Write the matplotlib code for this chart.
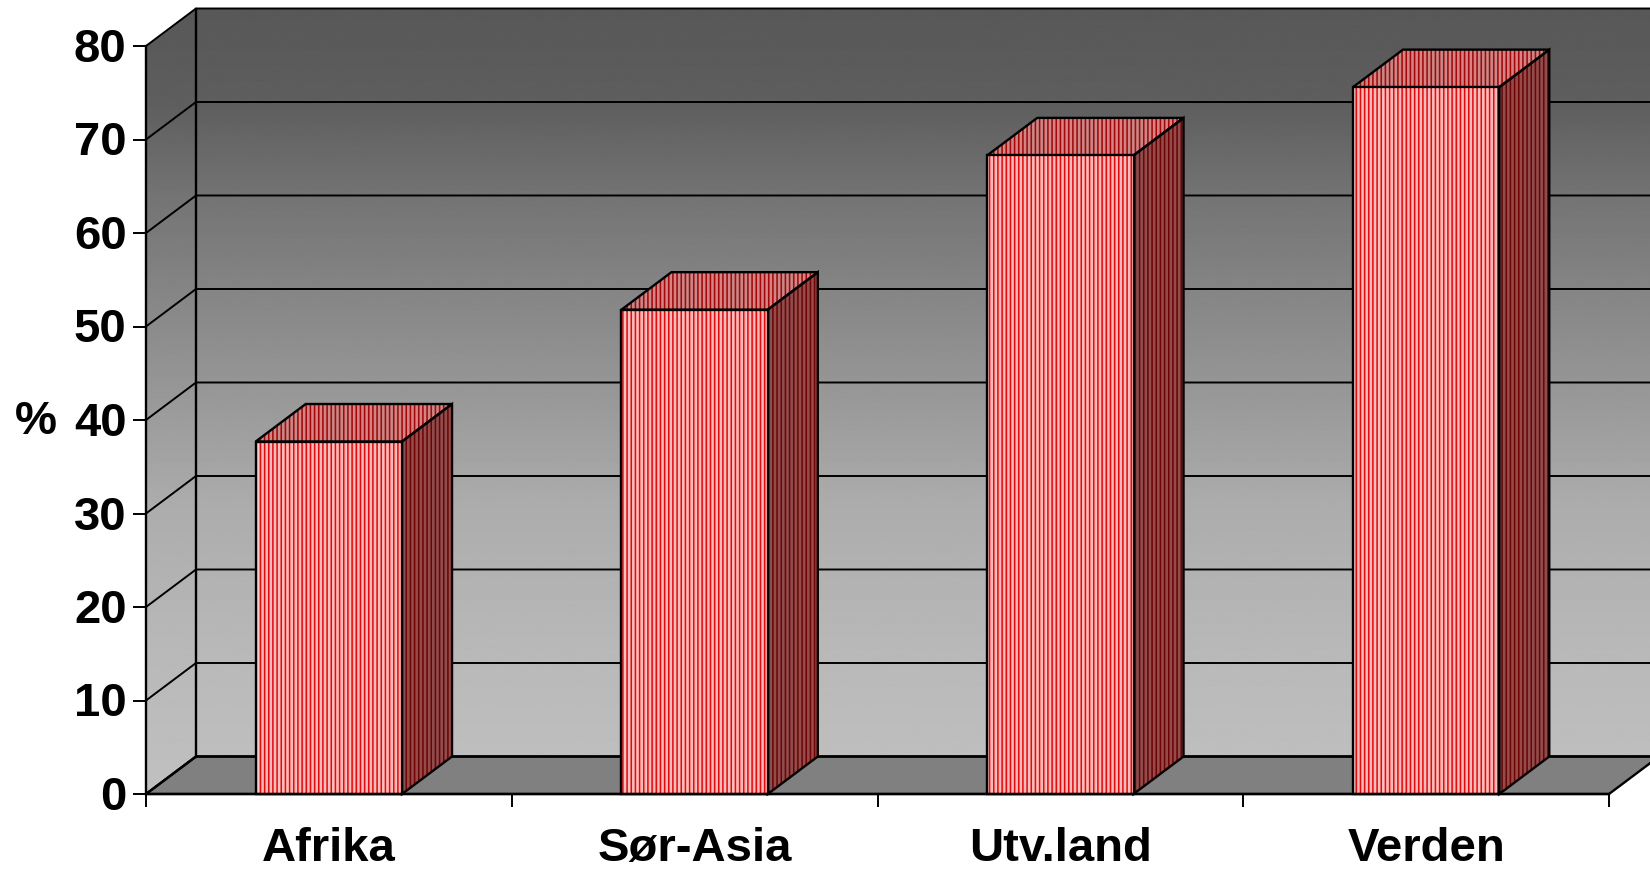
import numpy as np
import matplotlib
matplotlib.use("Agg")
import matplotlib.pyplot as plt
from matplotlib.patches import Polygon
from matplotlib.transforms import ScaledTranslation

categories = ["Afrika", "Sør-Asia", "Utv.land", "Verden"]
values = [37.7, 51.8, 68.3, 75.6]
y_ticks = [0, 10, 20, 30, 40, 50, 60, 70, 80]
y_label = "%"

W, H = 1650, 870
plt.rcParams["font.family"] = ["Liberation Sans", "DejaVu Sans"]
plt.rcParams["font.weight"] = "bold"
plt.rcParams["hatch.linewidth"] = 1.15

fig = plt.figure(figsize=(W / 100, H / 100), dpi=100, facecolor="white")
L, R, B, T = 146, 1609, 795, 47
ax = fig.add_axes([L / W, 1 - B / H, (R - L) / W, (B - T) / H])
ax.set_xlim(0, len(categories))
ax.set_ylim(0, 80)
ax.patch.set_visible(False)

# depth of the pseudo-3D box, in data units
DX = 50 / ((R - L) / len(categories))
DY = 37.5 / ((B - T) / 80)
BAR_W = 0.4
X_END = len(categories)
Y_MAX = 80

# wall gradient (grey level against value height on screen)
g_pos = np.array([0.0, 0.19, 0.37, 0.50, 0.76, 0.88, 1.0])
g_val = np.array([192, 184, 172, 153, 116, 94, 88]) / 255
g = np.interp(np.linspace(0, 1, 512), g_pos, g_val)[::-1, None]
grad_extent = [-0.1, X_END + 0.5, 0, Y_MAX + DY]


def wall(corners):
    poly = Polygon(corners, closed=True, fc="none", ec="none",
                   transform=ax.transData, clip_on=False)
    ax.add_patch(poly)
    im = ax.imshow(g, cmap="gray", vmin=0, vmax=1, extent=grad_extent,
                   aspect="auto", zorder=1, interpolation="bilinear")
    im.set_clip_box(fig.bbox)
    im.set_clip_path(poly)


LW = 1.7
wall([(0, 0), (DX, DY), (DX, Y_MAX + DY), (0, Y_MAX)])
wall([(DX, DY), (X_END + DX, DY), (X_END + DX, Y_MAX + DY), (DX, Y_MAX + DY)])
ax.set_xlim(0, X_END)
ax.set_ylim(0, Y_MAX)

# floor
ax.add_patch(Polygon([(0, 0), (X_END, 0), (X_END + DX, DY), (DX, DY)], closed=True,
                     fc="#808080", ec="black", lw=LW, zorder=2, clip_on=False))

# gridlines on both walls
for v in y_ticks:
    ax.plot([0, DX, X_END + DX], [v, v + DY, v + DY], color="black", lw=1.4 if v else LW,
            zorder=3, clip_on=False, solid_joinstyle="miter")
ax.plot([DX, DX], [DY, Y_MAX + DY], color="black", lw=LW, zorder=3, clip_on=False)


def striped(corners, face, stripe, z):
    ax.add_patch(Polygon(corners, closed=True, fc=face, ec=stripe, lw=0, hatch="||||",
                         zorder=z, clip_on=False))
    ax.add_patch(Polygon(corners, closed=True, fc="none", ec="black", lw=LW,
                         joinstyle="miter", zorder=z + 0.1, clip_on=False))


# bars
for i, v in enumerate(values):
    x0, x1 = i + 0.5 - BAR_W / 2, i + 0.5 + BAR_W / 2
    striped([(x1, 0), (x1 + DX, DY), (x1 + DX, v + DY), (x1, v)], "#8a5050", "#7a0000", 4)
    striped([(x0, v), (x1, v), (x1 + DX, v + DY), (x0 + DX, v + DY)], "#c08c8c", "#b80000", 4)
    striped([(x0, 0), (x1, 0), (x1, v), (x0, v)], "#ffc8c8", "#ff0000", 5)

# axes
for side in ("top", "right"):
    ax.spines[side].set_visible(False)
for side in ("left", "bottom"):
    ax.spines[side].set_linewidth(LW)
    ax.spines[side].set_zorder(6)
ax.set_yticks(y_ticks)
ax.set_xticks(range(len(categories) + 1))
ax.set_xticklabels([])
ax.set_xticks(np.arange(len(categories)) + 0.5, minor=True)
ax.set_xticklabels(categories, minor=True)
ax.tick_params(axis="y", length=9.4, width=1.4, pad=4.5, labelsize=34)
ax.tick_params(axis="x", which="major", length=9, width=1.4)
ax.tick_params(axis="x", which="minor", length=0, pad=23, labelsize=34)
shift = ScaledTranslation(0, 2 / 100, fig.dpi_scale_trans)
for lab in ax.get_yticklabels():
    lab.set_transform(lab.get_transform() + shift)
fig.text(36 / W, 1 - 422 / H, y_label, fontsize=34, fontweight="bold",
         ha="center", va="center")

fig.savefig("out.png", dpi=100)
